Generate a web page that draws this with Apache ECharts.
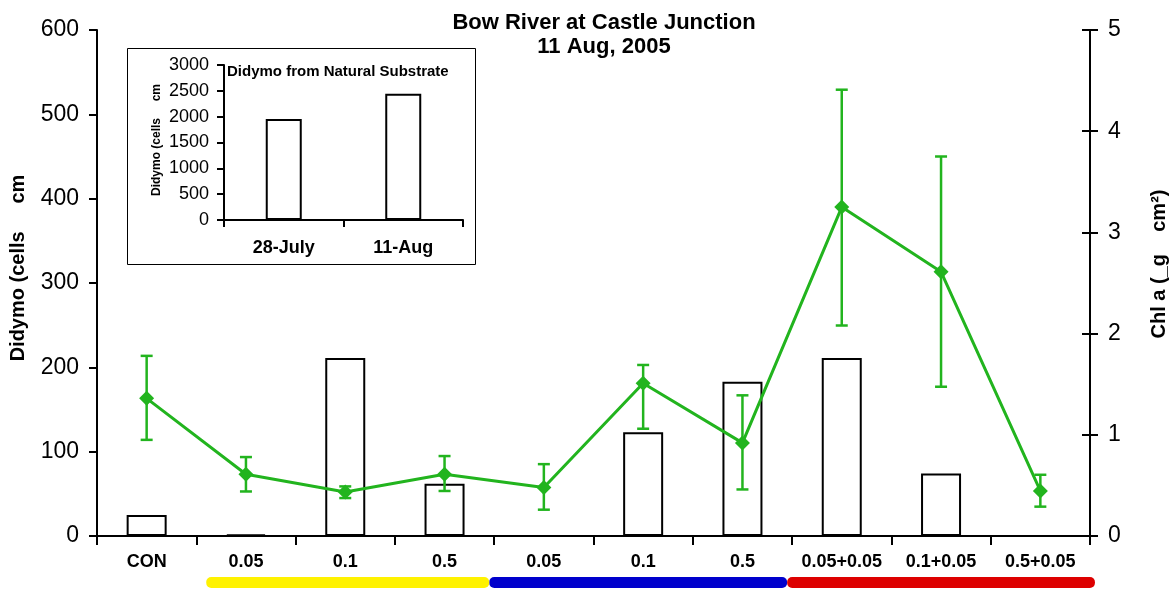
<!DOCTYPE html>
<html>
<head>
<meta charset="utf-8">
<script src="https://cdn.jsdelivr.net/npm/echarts@6/dist/echarts.min.js"></script>
<style>
html,body{margin:0;padding:0;background:#fff;}
#c{width:1171px;height:591px;}
</style>
</head>
<body>
<div id="c"></div>
<script>
var categories = ['CON','0.05','0.1','0.5','0.05','0.1','0.5','0.05+0.05','0.1+0.05','0.5+0.05'];
var didymo = [25, 2, 211, 62, 0, 123, 183, 211, 74, 0];
var chl = [1.36, 0.61, 0.435, 0.61, 0.48, 1.51, 0.92, 3.25, 2.61, 0.445];
var chlLow = [0.95, 0.44, 0.375, 0.445, 0.26, 1.06, 0.46, 2.08, 1.475, 0.29];
var chlHigh = [1.78, 0.78, 0.49, 0.79, 0.71, 1.69, 1.39, 4.41, 3.75, 0.605];
var insetCats = ['28-July','11-Aug'];
var insetVals = [1955, 2445];
var groups = [
  {from: 1, to: 3, color: '#FFF200'},
  {from: 4, to: 6, color: '#0000CC'},
  {from: 7, to: 9, color: '#DD0000'}
];

var FONT = "'Liberation Sans', Arial, sans-serif";
var GREEN = '#22B41E';
var chart = echarts.init(document.getElementById('c'));

var errData = categories.map(function (c, i) { return [i, chlLow[i], chlHigh[i]]; });
var plain = function (v) { return String(v); };

var option = {
  backgroundColor: '#fff',
  animation: false,
  textStyle: {fontFamily: FONT},
  title: {
    text: 'Bow River at Castle Junction\n11 Aug, 2005',
    left: 599, top: 6, textAlign: 'center',
    textStyle: {fontFamily: FONT, fontWeight: 'bold', fontSize: 22, lineHeight: 24, color: '#000'}
  },
  grid: [
    {left: 97, right: 81, top: 30, bottom: 55},
    {left: 224, right: 708, top: 65, bottom: 371}
  ],
  xAxis: [
    {
      type: 'category', gridIndex: 0, data: categories,
      axisLine: {lineStyle: {color: '#000', width: 2}},
      axisTick: {show: true, length: 9, lineStyle: {color: '#000', width: 2}},
      axisLabel: {color: '#000', fontWeight: 'bold', fontSize: 18, margin: 17, fontFamily: FONT, interval: 0}
    },
    {
      type: 'category', gridIndex: 1, data: insetCats,
      axisLine: {lineStyle: {color: '#000', width: 2}},
      axisTick: {show: true, length: 7, lineStyle: {color: '#000', width: 2}},
      axisLabel: {color: '#000', fontWeight: 'bold', fontSize: 18, margin: 19, fontFamily: FONT}
    }
  ],
  yAxis: [
    {
      type: 'value', gridIndex: 0, min: 0, max: 600, interval: 100, position: 'left',
      splitLine: {show: false},
      axisLine: {show: true, lineStyle: {color: '#000', width: 2}},
      axisTick: {show: true, length: 8, lineStyle: {color: '#000', width: 2}},
      axisLabel: {color: '#000', fontSize: 23, margin: 18, fontFamily: FONT, formatter: plain}
    },
    {
      type: 'value', gridIndex: 0, min: 0, max: 5, interval: 1, position: 'right',
      splitLine: {show: false},
      axisLine: {show: true, lineStyle: {color: '#000', width: 2}},
      axisTick: {show: true, length: 8, lineStyle: {color: '#000', width: 2}},
      axisLabel: {color: '#000', fontSize: 23, margin: 18, fontFamily: FONT, formatter: plain}
    },
    {
      type: 'value', gridIndex: 0, min: 0, max: 5, interval: 1, position: 'right',
      splitLine: {show: false},
      axisLine: {show: true, lineStyle: {color: '#000', width: 2}},
      axisTick: {show: true, inside: true, length: 8, lineStyle: {color: '#000', width: 2}},
      axisLabel: {show: false}
    },
    {
      type: 'value', gridIndex: 1, min: 0, max: 3000, interval: 500,
      splitLine: {show: false},
      axisLine: {show: true, lineStyle: {color: '#000', width: 2}},
      axisTick: {show: true, length: 7, lineStyle: {color: '#000', width: 2}},
      axisLabel: {color: '#000', fontSize: 18, margin: 15, fontFamily: FONT, formatter: plain}
    }
  ],
  series: [
    {
      type: 'bar', xAxisIndex: 0, yAxisIndex: 0, data: didymo, barWidth: 40,
      itemStyle: {color: '#fff', borderColor: '#000', borderWidth: 2},
      z: 2
    },
    {
      type: 'custom', xAxisIndex: 0, yAxisIndex: 1, data: errData, z: 3,
      renderItem: function (params, api) {
        var x = api.value(0);
        var lo = api.coord([x, api.value(1)]);
        var hi = api.coord([x, api.value(2)]);
        var hw = 6;
        var st = {stroke: GREEN, lineWidth: 2.5};
        return {
          type: 'group',
          children: [
            {type: 'line', shape: {x1: lo[0], y1: lo[1], x2: hi[0], y2: hi[1]}, style: st},
            {type: 'line', shape: {x1: lo[0] - hw, y1: lo[1], x2: lo[0] + hw, y2: lo[1]}, style: st},
            {type: 'line', shape: {x1: hi[0] - hw, y1: hi[1], x2: hi[0] + hw, y2: hi[1]}, style: st}
          ]
        };
      }
    },
    {
      type: 'line', xAxisIndex: 0, yAxisIndex: 1, data: chl, z: 4,
      symbol: 'diamond', symbolSize: 15,
      lineStyle: {color: GREEN, width: 3},
      itemStyle: {color: GREEN}
    },
    {
      type: 'bar', xAxisIndex: 1, yAxisIndex: 3, data: insetVals, barWidth: 36,
      itemStyle: {color: '#fff', borderColor: '#000', borderWidth: 2}
    }
  ],
  graphic: [
    {
      type: 'rect', left: 127, top: 48, z: 0,
      shape: {width: 348, height: 216},
      style: {fill: '#fff', stroke: '#000', lineWidth: 1}
    },
    {
      type: 'text', left: 227, top: 64, z: 10,
      style: {text: 'Didymo from Natural Substrate', font: 'bold 15px ' + FONT, fill: '#000'}
    },
    {
      type: 'text', x: 157, y: 140, rotation: Math.PI / 2, z: 10,
      style: {text: 'Didymo (cells     cm', font: 'bold 12px ' + FONT, fill: '#000', align: 'center', verticalAlign: 'middle'}
    },
    {
      type: 'text', x: 18, y: 268, rotation: Math.PI / 2, z: 10,
      style: {text: 'Didymo (cells     cm', font: 'bold 20px ' + FONT, fill: '#000', align: 'center', verticalAlign: 'middle'}
    },
    {
      type: 'text', x: 1159, y: 264, rotation: Math.PI / 2, z: 10,
      style: {text: 'Chl a (_g    cm\u00B2)', font: 'bold 20px ' + FONT, fill: '#000', align: 'center', verticalAlign: 'middle'}
    }
  ]
};
chart.setOption(option);

// group indicator bars under the x axis, positioned from the category axis
var extra = [];
var step = chart.convertToPixel({xAxisIndex: 0}, 1) - chart.convertToPixel({xAxisIndex: 0}, 0);
groups.forEach(function (g, k) {
  var x0 = chart.convertToPixel({xAxisIndex: 0}, g.from) - step * (k === 0 ? 0.4 : 0.55);
  var x1 = chart.convertToPixel({xAxisIndex: 0}, g.to) + step * (k === groups.length - 1 ? 0.55 : 0.45);
  extra.push({
    type: 'rect', left: x0, top: 577, z: k === 0 ? 3 : 2,
    shape: {width: x1 - x0, height: 11, r: 5},
    style: {fill: g.color}
  });
});
chart.setOption({graphic: option.graphic.concat(extra)});
</script>
</body>
</html>
